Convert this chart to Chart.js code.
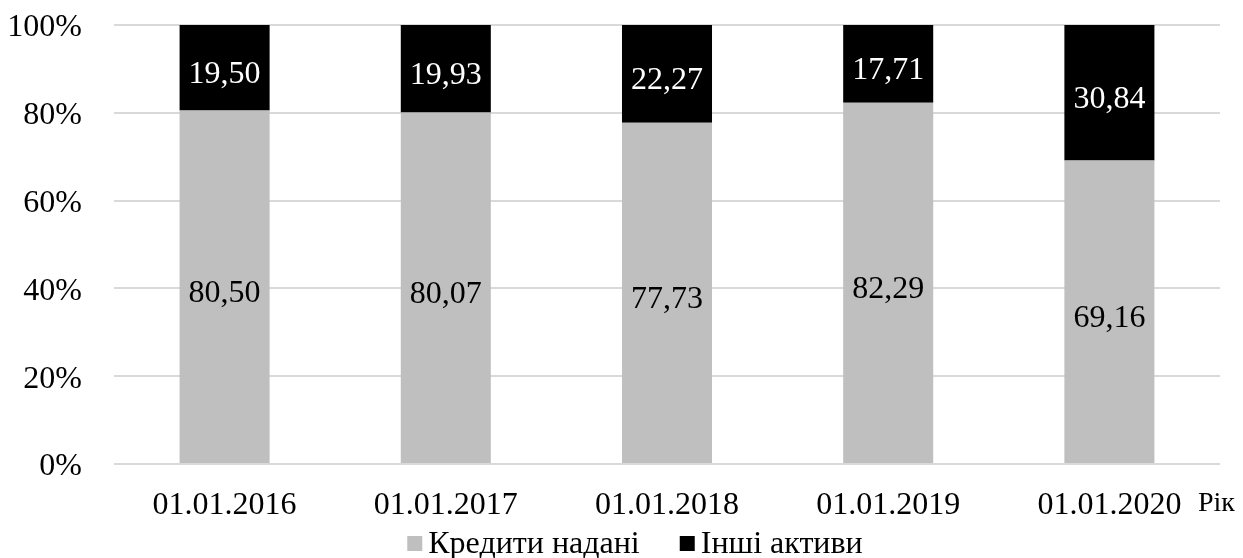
<!DOCTYPE html>
<html lang="uk">
<head>
<meta charset="utf-8">
<title>Структура активів</title>
<script src="https://cdn.jsdelivr.net/npm/chart.js@4/dist/chart.umd.min.js"></script>
<style>
  html, body { margin: 0; padding: 0; background: #ffffff; }
  canvas { display: block; }
</style>
</head>
<body>
<canvas id="assetsChart" width="1243" height="558"></canvas>
<script>
// Дати звітності
const years = ['01.01.2016', '01.01.2017', '01.01.2018', '01.01.2019', '01.01.2020'];
// Частка кредитів у активах, %
const credits = [80.50, 80.07, 77.73, 82.29, 69.16];
// Частка інших активів, %
const otherAssets = [19.50, 19.93, 22.27, 17.71, 30.84];
// Поділки осі Y
const yTicks = [0, 20, 40, 60, 80, 100];

const FONT = "'Liberation Serif', 'Times New Roman', serif";

// Підписи значень всередині сегментів
const segmentLabels = {
    id: 'segmentLabels',
    afterDatasetsDraw(chart) {
        const ctx = chart.ctx;
        ctx.save();
        ctx.font = '32px ' + FONT;
        ctx.textAlign = 'center';
        ctx.textBaseline = 'middle';
        chart.data.datasets.forEach((ds, i) => {
            const meta = chart.getDatasetMeta(i);
            meta.data.forEach((bar, j) => {
                const v = ds.data[j];
                ctx.fillStyle = ds.labelColor;
                ctx.fillText(v.toFixed(2).replace('.', ','), bar.x, (bar.y + bar.base) / 2 + 7);
            });
        });
        ctx.restore();
    }
};

// Назва осі X праворуч від останньої дати та легенда знизу
const extras = {
    id: 'extras',
    afterDraw(chart) {
        const ctx = chart.ctx;
        const xScale = chart.scales.x;
        ctx.save();
        ctx.fillStyle = '#000000';
        ctx.textBaseline = 'middle';
        ctx.textAlign = 'left';
        ctx.font = '28px ' + FONT;
        ctx.fillText('Рік', xScale.right - 22, 504);

        // легенда
        ctx.font = '32px ' + FONT;
        const box = 15, gap = 6, itemGap = 40;
        const items = chart.data.datasets.map(ds => ({
            text: ds.label,
            color: ds.backgroundColor,
            w: box + gap + ctx.measureText(ds.label).width
        }));
        const total = items.reduce((s, it) => s + it.w, 0) + itemGap * (items.length - 1);
        let x = 635 - total / 2;
        const y = 543;
        items.forEach(it => {
            ctx.fillStyle = it.color;
            ctx.fillRect(x, y - 7, box, box);
            ctx.fillStyle = '#000000';
            ctx.fillText(it.text, x + box + gap, y + 2);
            x += it.w + itemGap;
        });
        ctx.restore();
    }
};

const ctx = document.getElementById('assetsChart').getContext('2d');
const assetsChart = new Chart(ctx, {
    type: 'bar',
    data: {
        labels: years,
        datasets: [{
            label: 'Кредити надані',
            data: credits,
            backgroundColor: '#bfbfbf',
            labelColor: '#000000'
        }, {
            label: 'Інші активи',
            data: otherAssets,
            backgroundColor: '#000000',
            labelColor: '#ffffff'
        }]
    },
    options: {
        responsive: false,
        animation: false,
        layout: { padding: { left: 10, right: 23, top: 0, bottom: 34 } },
        datasets: {
            bar: { categoryPercentage: 1, barPercentage: 0.407 }
        },
        scales: {
            x: {
                stacked: true,
                grid: { display: false },
                border: { display: false },
                afterFit: scale => { scale.height = 60; },
                ticks: {
                    font: { family: FONT, size: 32 },
                    color: '#000000',
                    padding: 14,
                    maxRotation: 0
                }
            },
            y: {
                stacked: true,
                min: 0,
                max: 100,
                afterBuildTicks: axis => { axis.ticks = yTicks.map(v => ({ value: v })); },
                afterFit: scale => {
                    scale.width = 104;
                    scale.paddingTop = 25;
                    scale.paddingBottom = 0;
                },
                grid: { color: '#d9d9d9', lineWidth: 2, drawTicks: false },
                border: { display: false },
                ticks: {
                    font: { family: FONT, size: 32 },
                    color: '#000000',
                    padding: 32,
                    labelOffset: 3,
                    callback: v => v + '%'
                }
            }
        },
        plugins: {
            legend: { display: false },
            tooltip: { enabled: false }
        }
    },
    plugins: [segmentLabels, extras]
});
</script>
</body>
</html>
